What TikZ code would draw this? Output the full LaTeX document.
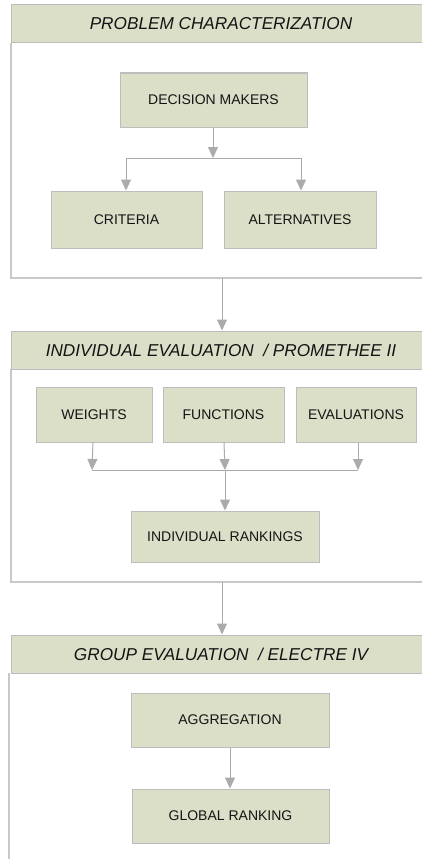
\documentclass[tikz,border=0pt]{standalone}
\usepackage{fontspec}
\setmainfont{Liberation Sans}
\usetikzlibrary{arrows.meta}
\definecolor{boxfill}{HTML}{DCDFC8}
\definecolor{boxline}{HTML}{BDBDBD}
\definecolor{frameline}{HTML}{C8C8C8}
\definecolor{arrowgray}{HTML}{ABABAB}
\definecolor{txt}{HTML}{141414}
\begin{document}
\begin{tikzpicture}[x=1pt,y=-1pt,
  stepbox/.style={draw=boxline,line width=1pt,fill=boxfill,text=txt,inner sep=0pt,
    font=\fontsize{14}{16}\selectfont},
  headbox/.style={draw=boxline,line width=1pt,fill=boxfill,text=txt,inner sep=0pt,
    minimum width=420pt,minimum height=38pt,font=\fontsize{17.2}{19}\selectfont\itshape},
  conn/.style={draw=arrowgray,line width=1pt},
  arr/.style={conn,-{Triangle[width=10pt,length=11pt]}},
  frame/.style={draw=frameline,line width=1.2pt}]
\useasboundingbox[fill=white] (0,0) rectangle (422,859);

% frames
\draw[frame] (11,43) -- (11,278) -- (431,278);
\draw[frame] (11,369) -- (11,582) -- (431,582);
\draw[frame] (9,673) -- (9,859);

% headers
\node[headbox] (h1) at (221,24) {PROBLEM CHARACTERIZATION};
\node[headbox] (h2) at (221,350) {INDIVIDUAL EVALUATION \ / PROMETHEE II};
\node[headbox] (h3) at (221,654) {GROUP EVALUATION \ / ELECTRE IV};

% section 1
\node[stepbox,minimum width=187pt,minimum height=54pt] (dm) at (213.5,100) {DECISION MAKERS};
\node[stepbox,minimum width=151pt,minimum height=57pt] (crit) at (126.5,219.5) {CRITERIA};
\node[stepbox,minimum width=152pt,minimum height=57pt] (alt) at (300,219.5) {ALTERNATIVES};
\coordinate (j1) at (213,158);
\coordinate (j1l) at (126,158);
\coordinate (j1r) at (301,158);
\draw[arr] (dm.south -| j1) -- (j1);
\draw[conn] (j1l) -- (j1r);
\draw[arr] (j1l) -- (crit.north -| j1l);
\draw[arr] (j1r) -- (alt.north -| j1r);

% link 1 -> 2
\coordinate (f1) at (222,278);
\draw[arr] (f1) -- (h2.north -| f1);

% section 2
\node[stepbox,minimum width=116pt,minimum height=55pt] (w) at (94,414.5) {WEIGHTS};
\node[stepbox,minimum width=121pt,minimum height=55pt] (fn) at (223.5,414.5) {FUNCTIONS};
\node[stepbox,minimum width=120pt,minimum height=55pt] (ev) at (356,414.5) {EVALUATIONS};
\node[stepbox,minimum width=188pt,minimum height=51pt] (ir) at (225,536.5) {INDIVIDUAL RANKINGS};
\coordinate (j2l) at (92,470);
\coordinate (j2c) at (225,470);
\coordinate (j2r) at (358,470);
\draw[arr] (w.south -| 93,0) -- (j2l);
\draw[arr] (fn.south -| 224,0) -- (j2c);
\draw[arr] (ev.south -| j2r) -- (j2r);
\draw[conn] (j2l) -- (j2r);
\draw[arr] (j2c) -- (ir.north -| j2c);

% link 2 -> 3
\coordinate (f2) at (222,582);
\draw[arr] (f2) -- (h3.north -| f2);

% section 3
\node[stepbox,minimum width=198pt,minimum height=54pt] (agg) at (230,720) {AGGREGATION};
\node[stepbox,minimum width=197pt,minimum height=54pt] (gr) at (230.5,816) {GLOBAL RANKING};
\draw[arr] (agg.south -| 230,0) -- (gr.north -| 230,0);
\end{tikzpicture}
\end{document}
